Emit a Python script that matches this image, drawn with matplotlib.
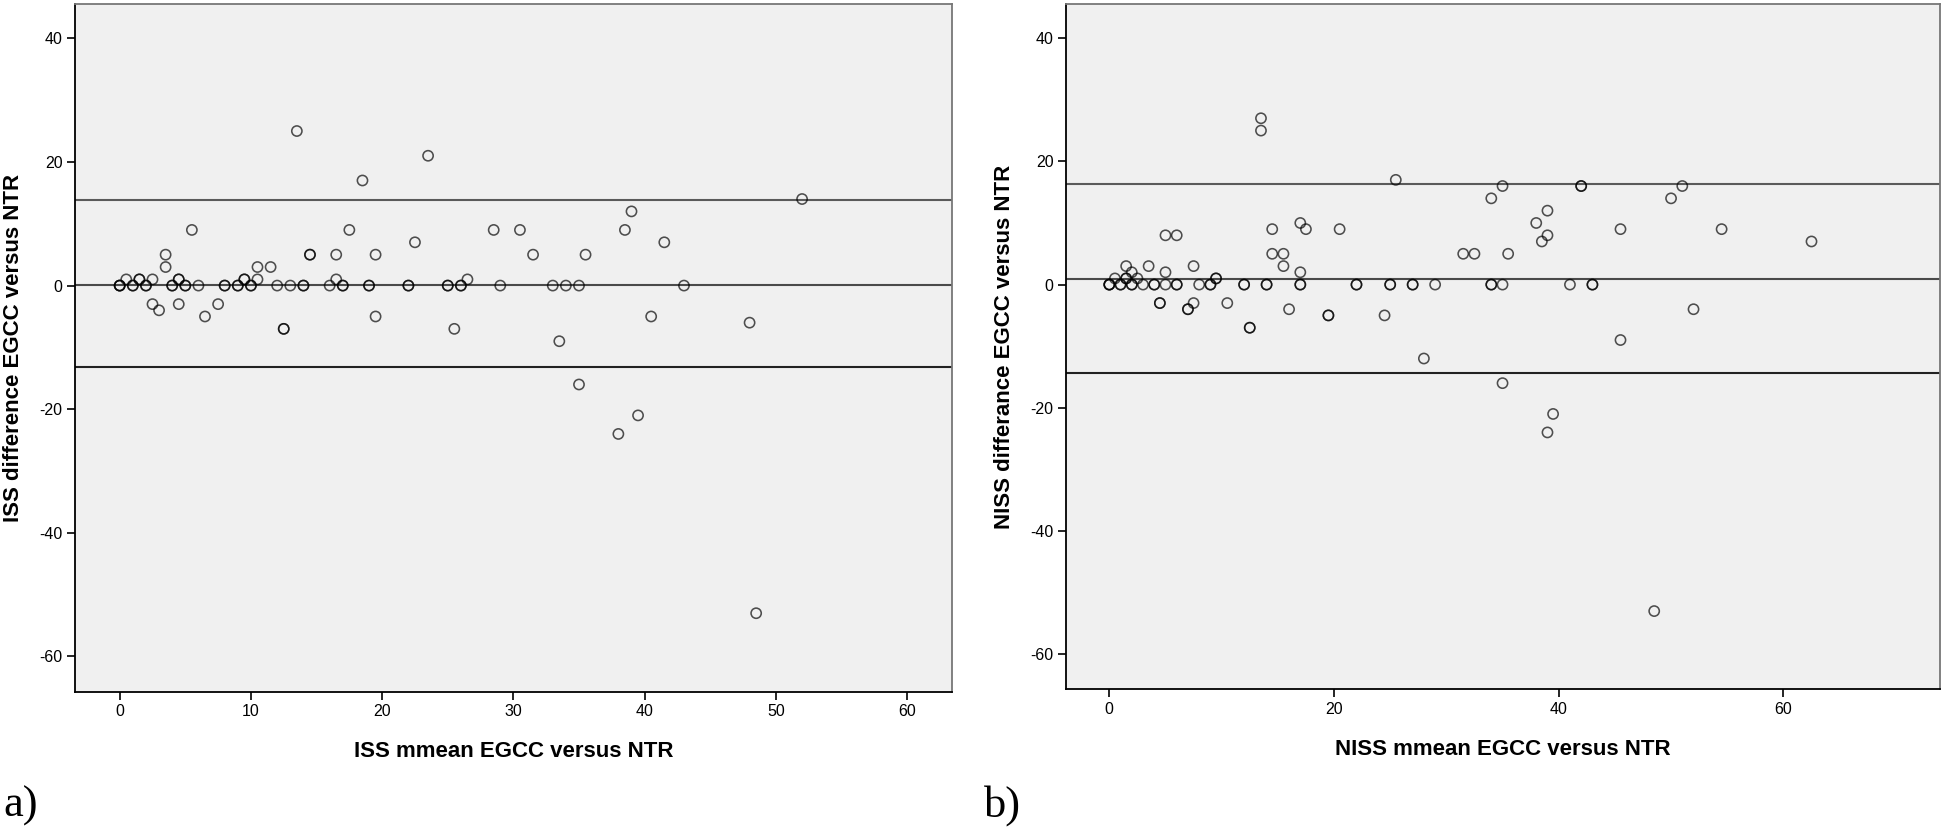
# Bland-Altman 図 (ISS / NISS, EGCC と NTR の比較)

import numpy as np
import matplotlib.pyplot as plt

# ---- データ (図から読み取り、重なった点は重複して記述) ----
ISS_MEAN = [0, 0, 0, 0.5, 1, 1, 1.5, 1.5, 2, 2, 2.5, 2.5, 3, 3.5, 3.5, 4, 4,
            4.5, 4.5, 4.5, 5, 5, 5.5, 6, 6.5, 7.5, 8, 8, 9, 9, 9.5, 9.5, 10, 10,
            10.5, 10.5, 11.5, 12, 12.5, 12.5, 13, 13.5, 14, 14, 14.5, 14.5, 16,
            16.5, 16.5, 17, 17, 17.5, 18.5, 19, 19, 19.5, 19.5, 22, 22, 22.5,
            23.5, 25, 25, 25.5, 26, 26, 26.5, 28.5, 29, 30.5, 31.5, 33, 33.5,
            34, 35, 35, 35.5, 38, 38.5, 39, 39.5, 40.5, 41.5, 43, 48, 48.5, 52]
ISS_DIFF = [0, 0, 0, 1, 0, 0, 1, 1, 0, 0, 1, -3, -4, 5, 3, 0, 0,
            1, 1, -3, 0, 0, 9, 0, -5, -3, 0, 0, 0, 0, 1, 1, 0, 0,
            1, 3, 3, 0, -7, -7, 0, 25, 0, 0, 5, 5, 0,
            5, 1, 0, 0, 9, 17, 0, 0, 5, -5, 0, 0, 7,
            21, 0, 0, -7, 0, 0, 1, 9, 0, 9, 5, 0, -9,
            0, 0, -16, 5, -24, 9, 12, -21, -5, 7, 0, -6, -53, 14]
ISS_LIMITS = [13.85, 0.15, -13.25]      # 上限, 平均, 下限

NISS_MEAN = [0, 0, 0, 0.5, 1, 1, 1.5, 1.5, 1.5, 2, 2, 2, 2.5, 3, 3.5, 4, 4,
             4.5, 4.5, 5, 5, 5, 6, 6, 6, 7, 7, 7.5, 7.5, 8, 9, 9, 9.5, 9.5,
             10.5, 12, 12, 12.5, 12.5, 13.5, 13.5, 14, 14, 14.5, 14.5, 15.5,
             15.5, 16, 17, 17, 17, 17, 17.5, 19.5, 19.5, 20.5, 22, 22, 24.5,
             25, 25, 25.5, 27, 27, 28, 29, 31.5, 32.5, 34, 34, 34, 35, 35, 35,
             35.5, 38, 38.5, 39, 39, 39, 39.5, 41, 42, 42, 43, 43, 45.5, 45.5,
             48.5, 50, 51, 52, 54.5, 62.5]
NISS_DIFF = [0, 0, 0, 1, 0, 0, 3, 1, 1, 2, 0, 0, 1, 0, 3, 0, 0,
             -3, -3, 8, 2, 0, 8, 0, 0, -4, -4, 3, -3, 0, 0, 0, 1, 1,
             -3, 0, 0, -7, -7, 27, 25, 0, 0, 9, 5, 5,
             3, -4, 10, 2, 0, 0, 9, -5, -5, 9, 0, 0, -5,
             0, 0, 17, 0, 0, -12, 0, 5, 5, 14, 0, 0, 16, 0, -16,
             5, 10, 7, 12, 8, -24, -21, 0, 16, 16, 0, 0, 9, -9,
             -53, 14, 16, -4, 9, 7]
NISS_LIMITS = [16.3, 0.94, -14.4]

ISS_XTICKS = [0, 10, 20, 30, 40, 50, 60]
NISS_XTICKS = [0, 20, 40, 60]
YTICKS = [-60, -40, -20, 0, 20, 40]

LINE_COLORS = ["#5a5a5a", "#4a4a4a", "#222222"]
BG_COLOR = "#f0f0f0"

plt.rcParams["font.family"] = ["Liberation Sans", "DejaVu Sans"]
plt.rcParams["axes.unicode_minus"] = False     # 目盛りはハイフン表記


def draw_panel(ax, mean, diff, limits, xticks, xlim, xlabel, ylabel):
    """
    1 枚分の Bland-Altman 図を描画する
    """
    ax.set_facecolor(BG_COLOR)

    # 平均 ± 1.96SD の水平線
    for value, color in zip(limits, LINE_COLORS):
        ax.axhline(value, color=color, linewidth=1.5, zorder=1)

    # 散布図 (白抜き丸)
    ax.scatter(mean, diff, s=54, facecolors="none", edgecolors="black",
               linewidths=1.15, alpha=0.68, zorder=2)

    ax.set_xlim(*xlim)
    ax.set_ylim(-65.7, 45.55)
    ax.set_xticks(xticks)
    ax.set_yticks(YTICKS)
    ax.tick_params(direction="out", length=6, width=1.2, labelsize=11.5,
                   pad=3, colors="black")

    for side in ["top", "right"]:
        ax.spines[side].set_color("#777777")
    for spine in ax.spines.values():
        spine.set_linewidth(1.3)

    ax.set_xlabel(xlabel, fontsize=16, fontweight="bold")
    ax.set_ylabel(ylabel, fontsize=16, fontweight="bold")
    ax.xaxis.set_label_coords(0.5, -0.072)
    ax.yaxis.set_label_coords(-0.058, 0.5)


def main():
    fig = plt.figure(figsize=(19.45, 8.31), dpi=100)

    ax_a = fig.add_axes([0.0386, 0.1676, 0.4507, 0.8276])
    ax_b = fig.add_axes([0.5481, 0.1705, 0.4494, 0.8247])

    draw_panel(ax_a, ISS_MEAN, ISS_DIFF, ISS_LIMITS, ISS_XTICKS, (-3.4, 63.4),
               "ISS mmean EGCC versus NTR", "ISS difference EGCC versus NTR")
    draw_panel(ax_b, NISS_MEAN, NISS_DIFF, NISS_LIMITS, NISS_XTICKS, (-3.85, 73.95),
               "NISS mmean EGCC versus NTR", "NISS differance EGCC versus NTR")

    # パネル記号
    fig.text(0.0015, 0.017, "a)", fontsize=32, family="Liberation Serif")
    fig.text(0.506, 0.017, "b)", fontsize=32, family="Liberation Serif")

    fig.savefig("out.png", dpi=100, facecolor="white")


if __name__ == "__main__":
    main()
